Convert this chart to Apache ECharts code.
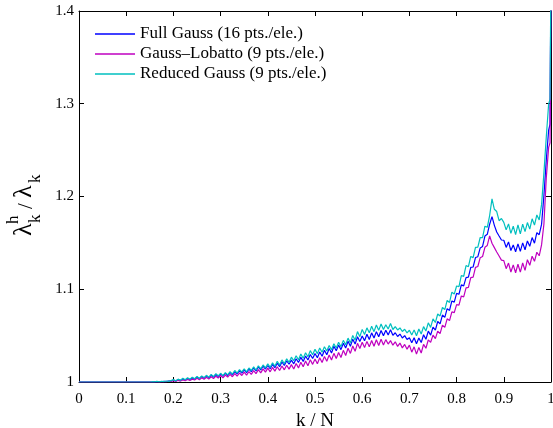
<!DOCTYPE html>
<html>
<head>
<meta charset="utf-8">
<style>
  html, body { margin: 0; padding: 0; background: #fff; }
  #chart { width: 553px; height: 428px; }
</style>
<script src="https://cdn.jsdelivr.net/npm/echarts@6/dist/echarts.min.js"></script>
</head>
<body>
<div id="chart"></div>
<script>
// Discrete-to-exact eigenvalue ratio lambda_k^h / lambda_k against k/N
// for three quadrature rules.

// Leading flat section (ratio exactly 1) and the sampled range.
const headK = [0, 0.05, 0.10];
const headRatio = [1, 1, 1];
const sampleStart = 0.15;   // first sampled k/N
const sampleStep = 0.005;   // spacing of sampled k/N
// Highest modes: last samples before k/N = 1, where the ratio leaves the plotted range.
const tailK = [0.998, 1.0];
const fullGaussTail = [1.2780, 1.45];
const gaussLobattoTail = [1.2580, 1.45];
const reducedGaussTail = [1.3050, 1.45];

const fullGauss = [
  1.0000, 1.0001, 1.0003, 1.0001, 1.0005, 1.0003, 1.0007, 1.0005, 1.0011, 1.0009,
  1.0021, 1.0010, 1.0026, 1.0016, 1.0032, 1.0021, 1.0038, 1.0026, 1.0044, 1.0031,
  1.0053, 1.0035, 1.0059, 1.0041, 1.0066, 1.0046, 1.0073, 1.0053, 1.0081, 1.0060,
  1.0087, 1.0063, 1.0094, 1.0070, 1.0103, 1.0077, 1.0112, 1.0086, 1.0122, 1.0095,
  1.0131, 1.0101, 1.0140, 1.0112, 1.0151, 1.0119, 1.0162, 1.0130, 1.0171, 1.0140,
  1.0178, 1.0143, 1.0189, 1.0155, 1.0203, 1.0166, 1.0216, 1.0178, 1.0229, 1.0191,
  1.0236, 1.0196, 1.0251, 1.0210, 1.0266, 1.0222, 1.0281, 1.0237, 1.0297, 1.0254,
  1.0307, 1.0261, 1.0324, 1.0278, 1.0343, 1.0294, 1.0362, 1.0313, 1.0385, 1.0336,
  1.0398, 1.0349, 1.0418, 1.0367, 1.0439, 1.0386, 1.0462, 1.0409, 1.0488, 1.0436,
  1.0497, 1.0444, 1.0514, 1.0459, 1.0530, 1.0474, 1.0543, 1.0487, 1.0556, 1.0499,
  1.0557, 1.0508, 1.0563, 1.0503, 1.0531, 1.0491, 1.0517, 1.0474, 1.0500, 1.0458,
  1.0478, 1.0423, 1.0477, 1.0413, 1.0475, 1.0425, 1.0509, 1.0461, 1.0549, 1.0505,
  1.0592, 1.0559, 1.0652, 1.0627, 1.0722, 1.0697, 1.0791, 1.0772, 1.0874, 1.0861,
  1.0955, 1.0946, 1.1047, 1.1036, 1.1126, 1.1130, 1.1236, 1.1240, 1.1342, 1.1351,
  1.1446, 1.1462, 1.1573, 1.1592, 1.1701, 1.1783, 1.1689, 1.1618, 1.1574, 1.1531,
  1.1528, 1.1451, 1.1510, 1.1418, 1.1478, 1.1404, 1.1489, 1.1409, 1.1500, 1.1426,
  1.1521, 1.1463, 1.1557, 1.1497, 1.1610, 1.1588, 1.1699, 1.2010, 1.2392, 1.2715
];

const gaussLobatto = [
  1.0000, 1.0000, 1.0002, 1.0000, 1.0003, 1.0001, 1.0005, 1.0003, 1.0008, 1.0006,
  1.0015, 1.0006, 1.0018, 1.0010, 1.0022, 1.0013, 1.0027, 1.0017, 1.0031, 1.0021,
  1.0040, 1.0024, 1.0045, 1.0029, 1.0051, 1.0033, 1.0057, 1.0038, 1.0063, 1.0043,
  1.0070, 1.0046, 1.0075, 1.0052, 1.0082, 1.0057, 1.0090, 1.0063, 1.0097, 1.0070,
  1.0106, 1.0074, 1.0113, 1.0082, 1.0123, 1.0090, 1.0133, 1.0098, 1.0142, 1.0107,
  1.0149, 1.0110, 1.0157, 1.0117, 1.0165, 1.0124, 1.0173, 1.0131, 1.0181, 1.0139,
  1.0187, 1.0141, 1.0200, 1.0152, 1.0213, 1.0164, 1.0226, 1.0176, 1.0241, 1.0190,
  1.0248, 1.0197, 1.0262, 1.0211, 1.0276, 1.0224, 1.0291, 1.0238, 1.0309, 1.0254,
  1.0318, 1.0264, 1.0341, 1.0286, 1.0364, 1.0308, 1.0388, 1.0331, 1.0417, 1.0361,
  1.0428, 1.0371, 1.0438, 1.0379, 1.0447, 1.0386, 1.0455, 1.0393, 1.0461, 1.0398,
  1.0457, 1.0409, 1.0446, 1.0397, 1.0433, 1.0384, 1.0420, 1.0368, 1.0405, 1.0354,
  1.0398, 1.0322, 1.0379, 1.0301, 1.0373, 1.0313, 1.0406, 1.0364, 1.0455, 1.0428,
  1.0506, 1.0468, 1.0549, 1.0521, 1.0613, 1.0589, 1.0681, 1.0662, 1.0756, 1.0748,
  1.0834, 1.0828, 1.0927, 1.0918, 1.1014, 1.1021, 1.1125, 1.1130, 1.1236, 1.1245,
  1.1340, 1.1353, 1.1452, 1.1472, 1.1576, 1.1496, 1.1449, 1.1402, 1.1358, 1.1314,
  1.1308, 1.1222, 1.1282, 1.1186, 1.1263, 1.1178, 1.1270, 1.1185, 1.1283, 1.1204,
  1.1319, 1.1258, 1.1357, 1.1301, 1.1399, 1.1361, 1.1478, 1.1703, 1.2201, 1.2530
];

const reducedGauss = [
  1.0000, 1.0003, 1.0001, 1.0006, 1.0002, 1.0008, 1.0005, 1.0011, 1.0007, 1.0015,
  1.0026, 1.0012, 1.0031, 1.0019, 1.0040, 1.0024, 1.0046, 1.0029, 1.0052, 1.0035,
  1.0060, 1.0038, 1.0066, 1.0047, 1.0072, 1.0050, 1.0081, 1.0058, 1.0090, 1.0066,
  1.0094, 1.0068, 1.0101, 1.0077, 1.0112, 1.0085, 1.0124, 1.0096, 1.0133, 1.0108,
  1.0142, 1.0110, 1.0151, 1.0124, 1.0163, 1.0129, 1.0175, 1.0141, 1.0184, 1.0152,
  1.0196, 1.0158, 1.0207, 1.0171, 1.0224, 1.0182, 1.0238, 1.0196, 1.0251, 1.0211,
  1.0268, 1.0229, 1.0283, 1.0240, 1.0301, 1.0256, 1.0316, 1.0272, 1.0338, 1.0293,
  1.0352, 1.0306, 1.0366, 1.0321, 1.0381, 1.0334, 1.0394, 1.0348, 1.0412, 1.0366,
  1.0428, 1.0381, 1.0449, 1.0402, 1.0473, 1.0421, 1.0502, 1.0451, 1.0544, 1.0489,
  1.0567, 1.0512, 1.0584, 1.0530, 1.0601, 1.0543, 1.0615, 1.0557, 1.0626, 1.0566,
  1.0618, 1.0572, 1.0631, 1.0566, 1.0597, 1.0561, 1.0583, 1.0544, 1.0569, 1.0530,
  1.0558, 1.0506, 1.0562, 1.0499, 1.0571, 1.0518, 1.0597, 1.0550, 1.0638, 1.0589,
  1.0681, 1.0641, 1.0733, 1.0712, 1.0803, 1.0781, 1.0879, 1.0858, 1.0969, 1.0948,
  1.1035, 1.1029, 1.1148, 1.1139, 1.1256, 1.1243, 1.1354, 1.1341, 1.1452, 1.1455,
  1.1558, 1.1556, 1.1680, 1.1668, 1.1795, 1.1974, 1.1862, 1.1838, 1.1739, 1.1763,
  1.1721, 1.1640, 1.1705, 1.1603, 1.1681, 1.1589, 1.1694, 1.1597, 1.1702, 1.1621,
  1.1719, 1.1648, 1.1760, 1.1692, 1.1801, 1.1748, 1.1912, 1.2255, 1.2641, 1.2998
];

const seriesNames = [
  'Full Gauss (16 pts./ele.)',
  'Gauss\u2013Lobatto (9 pts./ele.)',
  'Reduced Gauss (9 pts./ele.)'
];
const seriesColors = ['#0000ff', '#bf00bf', '#00bfbf'];

const xTicks = ['0', '0.1', '0.2', '0.3', '0.4', '0.5', '0.6', '0.7', '0.8', '0.9', '1'];
const yTicks = ['1', '1.1', '1.2', '1.3', '1.4'];

function toPairs(values, tail) {
  const pts = headK.map((k, i) => [k, headRatio[i]]);
  values.forEach((v, i) => {
    pts.push([+(sampleStart + i * sampleStep).toFixed(4), v]);
  });
  tailK.forEach((k, i) => pts.push([k, tail[i]]));
  return pts;
}

const serifFont = "'Liberation Serif', 'Times New Roman', Times, serif";

const chart = echarts.init(document.getElementById('chart'), null, { renderer: 'canvas' });

const baseAxis = {
  axisLine: { show: true, onZero: false, lineStyle: { color: '#000', width: 1 } },
  axisTick: { show: true, inside: true, length: 5, lineStyle: { color: '#000', width: 1 } },
  splitLine: { show: false }
};

// Rotated y-axis title: lambda_k^h / lambda_k, with the sup/sub stacked.
function titlePiece(text, x, y, size) {
  return {
    type: 'text', x: x, y: y,
    style: { text: text, font: size + 'px ' + serifFont, fill: '#000', verticalAlign: 'middle', align: 'left' }
  };
}

const option = {
  animation: false,
  backgroundColor: '#fff',
  grid: { left: 79, right: 2, top: 11, bottom: 46, containLabel: false, outerBoundsMode: 'none' },
  legend: {
    orient: 'vertical',
    left: 95,
    top: 24,
    padding: 0,
    itemWidth: 40,
    itemHeight: 1.5,
    itemGap: 0,
    icon: 'rect',
    selectedMode: false,
    textStyle: { fontFamily: serifFont, fontSize: 17, color: '#000', lineHeight: 20 },
    data: seriesNames
  },
  xAxis: [
    Object.assign({}, baseAxis, {
      type: 'value', position: 'bottom', min: 0, max: 1, interval: 0.1,
      name: 'k / N', nameLocation: 'middle', nameGap: 28,
      nameTextStyle: { fontFamily: serifFont, fontSize: 19, color: '#000' },
      axisLabel: {
        margin: 10, color: '#000', fontFamily: serifFont, fontSize: 15,
        formatter: (v) => xTicks[Math.round(v * 10)]
      }
    }),
    Object.assign({}, baseAxis, {
      type: 'value', position: 'top', min: 0, max: 1, interval: 0.1,
      axisLabel: { show: false }
    })
  ],
  yAxis: [
    Object.assign({}, baseAxis, {
      type: 'value', position: 'left', min: 1, max: 1.4, interval: 0.1,
      axisLabel: {
        margin: 5, color: '#000', fontFamily: serifFont, fontSize: 15,
        formatter: (v) => yTicks[Math.round((v - 1) * 10)]
      }
    }),
    Object.assign({}, baseAxis, {
      type: 'value', position: 'right', min: 1, max: 1.4, interval: 0.1,
      axisLabel: { show: false }
    })
  ],
  series: [fullGauss, gaussLobatto, reducedGauss].map((vals, i) => ({
    name: seriesNames[i],
    type: 'line',
    xAxisIndex: 0,
    yAxisIndex: 0,
    data: toPairs(vals, [fullGaussTail, gaussLobattoTail, reducedGaussTail][i]),
    showSymbol: false,
    symbol: 'none',
    clip: true,
    lineStyle: { color: seriesColors[i], width: 1.2 },
    itemStyle: { color: seriesColors[i] },
    z: 2 + i
  })),
  graphic: [{
    type: 'group',
    x: 33,
    y: 236,
    rotation: Math.PI / 2,
    children: [
      titlePiece('\u03bb', 0, -9, 26),
      titlePiece('h', 12, -19, 17),
      titlePiece('k', 13, 3, 17),
      titlePiece('/', 27, -7, 21),
      titlePiece('\u03bb', 38, -9, 26),
      titlePiece('k', 53, 3, 17)
    ]
  }]
};

chart.setOption(option);
</script>
</body>
</html>
